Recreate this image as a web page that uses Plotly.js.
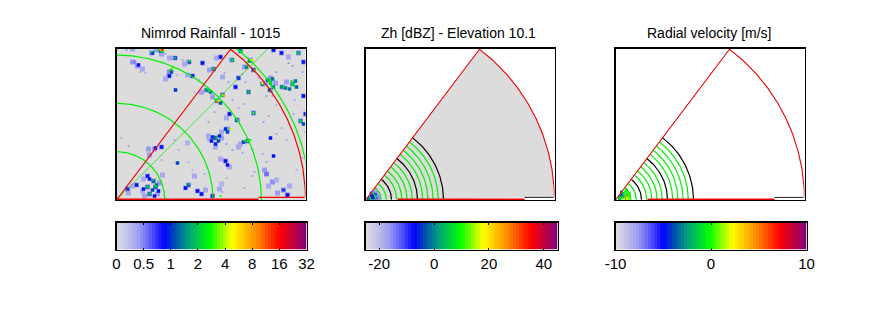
<!DOCTYPE html>
<html><head><meta charset="utf-8">
<script src="https://cdn.plot.ly/plotly-3.0.1.min.js"></script>
<style>html,body{margin:0;padding:0;background:#fff}</style></head>
<body><div id="chart" style="width:889px;height:333px"></div>
<script>
// Titles and colour-key tick labels
const panelTitles = ["Nimrod Rainfall - 1015", "Zh [dBZ] - Elevation 10.1", "Radial velocity [m/s]"];
const rainTickLevels = [0, 1, 2, 3, 4, 5, 6, 7];
const rainTickText = ["0", "0.5", "1", "2", "4", "8", "16", "32"];
const zhTicks = [-20, 0, 20, 40];
const velTicks = [-10, 0, 10];

// Range rings
const rainRings = [48.3, 96.6, 144.9, 193.2];
const scanGreenRings = [5.2, 10.4, 15.6, 20.8, 31.2, 36.4, 41.6, 46.8, 57.2, 62.4, 67.6, 72.8];
const scanBlackRings = [26, 52, 78];
const sectorRadius = 189, sectorAngle = 52.9, sectorEndAngle = 0.9;

// Rainfall [x, y, mm/h]: specks, halo, body and core cells
const rainSpeck = [
[10,150,.4],[24,128,.35],[29,127,.3],[49,146,.35],[66,140,.35],[60,125,.3],[82,120,.3],[83,107,.4],[86,106,.35],[78,108,.3],
[108,127,.35],[112,118,.35],[126,126,.4],[129,118,.4],[142,122,.35],[160,128,.4],[172,137,.45],[176,134,.4],[186,128,.35],[178,100,.35],
[150,104,.4],[156,104,.3],[160,95,.3],[128,96,.35],[122,92,.35],[116,100,.35],[98,88,.4],[92,78,.35],[110,56,.4],[116,50,.4],[121,53,.45],
[126,47,.35],[136,50,.35],[146,46,.4],[150,38,.35],[136,24,.35],[138,28,.3],[128,12,.3],[104,16,.35],[106,8,.35],[110,22,.3],[88,26,.3],
[76,30,.3],[72,38,.3],[58,60,.35],[12,54,.35],[5,62,.3],[62,50,.3],[45,40,.3],[180,30,.3],[186,42,.3],[160,66,.35],[170,60,.3],[147,78,.4],
[152,84,.35],[165,72,.3],[177,86,.35],[189,68,.4]];
const rainHalo = [
[16,151,.38],[16,138,.42],[21,134,.42],[26,131,.35],[52,124,.42],[49,121,.35],[53,128,.48],[40,150,.42],[45,146,.42],[35,147,.42],[58,142,.42],[53,142,.35],
[72,138,.42],[68,136,.35],[86,137,.42],[76,124,.42],[71,125,.35],[90,110,.42],[85,108,.38],[93,130,.42],
[124,149,.42],[104,143,.42],[100,142,.35],[115,140,.42],[134,140,.42],[128,133,.42],[137,130,.42],[97,131,.42],[146,116,.42],
[154,122,.42],[154,110,.42],[149,117,.42],[159,117,.4],[166,113,.42],[176,116,.42],[170,118,.4],[182,147,.42],[165,147,.42],[157,150,.42],[172,143,.35],[187,138,.42],
[106,123,.35],[122,122,.42],[119,113,.42],[132,108,.42],[101,99,.42],[96,103,.42],[106,105,.42],[113,86,.42],[110,82,.35],[137,87,.42],
[121,80,.42],[187,104,.42],[184,79,.42],[189,86,.42],
[45,53,.42],[38,51,.42],[32,51,.42],[33,45,.42],[31,24,.42],[27,21,.35],[37,19,.48],[31,13,.48],[39,13,.48],[33,6,.48],[41,6,.42],[26,9,.35],[43,17,.42],[28,4,.38],
[20,15,.42],[16,14,.35],[11,11,.42],[12,7,.35],[46,25,.35],[72,15,.42],[69,12,.35],[81,9,.42],[85,6,.42],[89,10,.35],[78,24,.35],
[71,57,.3],[93,61,.35],[99,62,.48],[92,64,.35],[99,53,.35],[105,62,.4],[111,71,.42],[105,68,.35],[131,59,.42],[124,56,.35],[122,53,.35],
[109,39,.42],[104,41,.35],[113,33,.35],[150,26,.48],[148,30,.42],[156,18,.46],[160,20,.32],[152,14,.32],[167,10,.48],[173,14,.35],[161,7,.42],[171,5,.48],
[103,11,.35],[105,16,.28],[96,4,.42]];
const rainBody = [
[22,135,.8],[18,138,.5],[44,149,1.2],[36,147,1],[59,142,1],[73,138,1.2],[86,137,.9],[55,128,1.2],[53,124,.9],[76,124,.9],[59,110,1],
[90,110,1.4],[94,108,1.3],[124,149,1.2],[104,143,.9],[116,140,1.3],[133,139,1.2],[130,133,1.3],[137,130,1],[97,131,1.3],[146,116,1.2],
[154,117,1.5],[151,120,1.3],[157,113,1.3],[153,110,1.2],[156,121,1.3],[165,113,1.4],[169,112,1.3],[176,116,1.5],[179,119,1.3],[173,111,1.3],[180,113,1.2],[182,147,1.3],[165,147,.9],[157,150,.9],
[187,138,.9],[122,122,.9],[119,113,.9],[132,108,1.3],[100,99,1.3],[104,97,1.2],[106,105,1.2],[113,86,.9],[137,87,1.3],[120,80,1],[187,104,.9],
[184,79,1.3],[187,76,1.1],[189,86,.9],[45,53,.9],[39,52,.8],[31,24,.9],[33,21,.8],[37,19,1.2],[40,15,1.3],[31,13,1.3],[27,11,.9],[36,10,1.1],
[39,13,1.3],[33,6,1.3],[38,4,.9],[42,9,.9],[20,15,.9],[11,11,.8],[72,15,1.1],[69,12,.9],[81,9,.9],[85,6,.9],[61,37,1.1],[99,62,1.2],[96,63,1],[102,59,1.1],[103,64,1],[95,59,.9],
[99,56,.8],[109,71,1],[111,68,1.1],[131,59,1.2],[127,58,1],[154,62,.9],[157,44,.8],[109,39,.9],[111,35,.8],[167,10,.6],[171,5,.9],[96,4,.9],[150,26,.55]];
const rainCore = [
[45,149,3],[42,150,2.2],[47,148,2.4],[44,150,8],[46,150,14],[35,148,2],[59,142,1.8],[73,139,2.6],[55,131,2.8],[56,132,3.5],[54,130,2.2],[91,111,2.4],[93,109,2],
[125,149,2.4],[116,140,2.6],[134,140,4],[136,140,5.5],[131,138,3],[130,134,2.2],[138,130,2],[138,129,7],[97,131,2.4],[146,116,3],[146,117,5],
[154,117,2.6],[153,120,2.4],[155,114,2.2],[167,113,2.2],[176,116,2.7],[175,119,2.5],[178,114,2.4],[182,147,2.4],[132,108,2.2],
[100,100,3],[100,98,11],[102,99,5.5],[99,101,2.8],[106,105,5],[105,104,2.6],[108,104,7],[137,87,3],[120,80,2],[184,79,2.4],
[37,20,2.2],[31,13,2.6],[39,14,2.4],[33,6,2.2],[72,16,2],[100,62,2],[114,71,3.2],[115,71,4.5],[131,59,3],[134,60,3],[128,59,2.4],[104,4,2.8],[167,10,1]];

// Low-range scan cells [x, y, value]
const zhCells = [[6.5,2,-8],[8,4,-8],[10,6,-7],[6,4,-6],[11.5,2,-10],[9,2,-6],[4,2,-5],[7.5,6.5,-10],[10,3.5,-13],[12.5,4,-15],[13.5,1.5,-16],[8,8.5,-15],[11,8,-16],[4.5,1,-3],[3,1,-1],[5.5,7,-12],[13,7,-18],[9.5,10,-18]];
const velCells = [[8.5,2.5,2.5],[11,1.5,2.2],[10,4,4.5],[6.5,5,-5],[5,3.5,-4.5],[8,6.5,-2.5],[6,2,0],[13,4,0.2],[10,8,0],[4,1.5,-2.2],[12,6,-1],[13.5,1.5,1],[7,3.5,-2],[6,8,-3],[14,6.5,.5],[11,10,-.5]];

// Colour key band count and colour ramp
const keyBands = 64;
const ramp = [[0,"#dcdcdc"],[.04,"#ccccea"],[.12,"#9c9cf0"],[.2,"#4444ff"],[.25,"#0000ff"],[.31,"#0050b0"],[.375,"#00a080"],[.49,"#00ff00"],[.61,"#ffff00"],[.73,"#ff9000"],[.86,"#ff0000"],[1,"#800080"]];

const W = 889, H = 333;
const dx = (a, b) => [a / W, b / W];
const dy = (t, b) => [1 - b / H, 1 - t / H];
const panelLeft = [116.5, 365.5, 615.5];
const barEdges = [[116.5, 306.5], [365.5, 557.5], [615.5, 806.5]];
const RX = 189, RY = 151.5;

function arc(r, a0, a1) {
  const x = [], y = [];
  const n = Math.max(12, Math.round(r));
  for (let i = 0; i <= n; i++) {
    const t = (a0 + (a1 - a0) * i / n) * Math.PI / 180;
    x.push(r * Math.cos(t)); y.push(r * Math.sin(t));
  }
  return { x, y };
}
const line = (pts, color, width, ax) => ({
  type: "scatter", mode: "lines", x: pts.x, y: pts.y, xaxis: "x" + ax, yaxis: "y" + ax,
  line: { color, width }, hoverinfo: "skip", showlegend: false
});
const rainLevel = v => v < .5 ? v * 2 : Math.log2(v) + 2;
function cells(list, size, ax, toColor, cmin, cmax) {
  return {
    type: "scatter", mode: "markers", xaxis: "x" + ax, yaxis: "y" + ax, showlegend: false, hoverinfo: "skip",
    x: list.map(c => c[0]), y: list.map(c => c[1]),
    marker: { symbol: "square", size, line: { width: 0 }, color: list.map(c => toColor(c[2])), cmin, cmax, colorscale: ramp }
  };
}
function sectorOutline() {
  const a = arc(sectorRadius, sectorAngle, sectorEndAngle);
  return { x: [0].concat(a.x), y: [0].concat(a.y) };
}

const traces = [];
const id = v => v;

// Panel 1
traces.push(cells(rainSpeck, 2, "", rainLevel, 0, 7));
traces.push(cells(rainHalo, 5, "", rainLevel, 0, 7));
traces.push(cells(rainBody, 3.5, "", rainLevel, 0, 7));
traces.push(cells(rainCore, 2, "", rainLevel, 0, 7));
rainRings.forEach(r => traces.push(line(arc(r, 0, 90), "#00f000", 1.2, "")));
traces.push(line({ x: [0, RY], y: [0, RY] }, "#00e000", .7, ""));
traces.push(line(sectorOutline(), "#f00000", 1.2, ""));
traces.push(line({ x: [0, 142], y: [.8, .8] }, "#f00000", 1.6, ""));
traces.push(line({ x: [142, 188], y: [2.6, 2.6] }, "#f00000", 1.4, ""));

// Panels 2 and 3
[["2", zhCells, -25, 45], ["3", velCells, -10, 10]].forEach(([ax, list, lo, hi], k) => {
  if (k === 0) {
    const o = sectorOutline();
    const t = line({ x: o.x.concat([0]), y: o.y.concat([0]) }, "rgba(0,0,0,0)", 0, ax);
    t.fill = "toself"; t.fillcolor = "#dcdcdc";
    traces.push(t);
  }
  traces.push(cells(list, 3, ax, id, lo, hi));
  scanGreenRings.forEach(r => traces.push(line(arc(r, sectorEndAngle, sectorAngle), "#00f000", 1.2, ax)));
  scanBlackRings.forEach(r => traces.push(line(arc(r, sectorEndAngle, sectorAngle), "#000000", 1.2, ax)));
  traces.push(line(sectorOutline(), "#f00000", 1.1, ax));
  traces.push(line({ x: [32, 159], y: [.6, .6] }, "#f00000", 1.6, ax));
  traces.push(line({ x: [159, 188], y: [2.6, 2.6] }, "#222222", 1, ax));
});

// Colour keys
[[0, 7, "4"], [-25, 45, "5"], [-10, 10, "6"]].forEach(([lo, hi, ax]) => {
  const xs = [], zs = [];
  for (let i = 0; i < keyBands; i++) { xs.push(lo + (hi - lo) * (i + .5) / keyBands); zs.push(xs[i]); }
  traces.push({
    type: "heatmap", x: xs, y: [0], z: [zs], xaxis: "x" + ax, yaxis: "y" + ax,
    colorscale: ramp, zmin: lo, zmax: hi, showscale: false, hoverinfo: "skip", zsmooth: false
  });
});

const frame = { showline: true, mirror: true, linecolor: "#000", linewidth: 1.2, zeroline: false, showgrid: false, fixedrange: true };
const hidden = Object.assign({}, frame, { showticklabels: false, ticks: "" });
const layout = {
  width: W, height: H, autosize: false, margin: { l: 0, r: 0, t: 0, b: 0 },
  paper_bgcolor: "#fff", plot_bgcolor: "#fff", showlegend: false,
  font: { family: "Liberation Sans, Arial, sans-serif", size: 14, color: "#000" },
  shapes: [{ type: "rect", xref: "x domain", yref: "y domain", x0: 0, x1: 1, y0: 0, y1: 1, layer: "below", fillcolor: "#dcdcdc", line: { width: 0 } }],
  annotations: panelTitles.map((t, i) => ({
    text: t, xref: "paper", yref: "paper", x: [210, 459, 708.5][i] / W, y: 1 - 33 / H,
    xanchor: "center", yanchor: "middle", showarrow: false, font: { size: 14 }
  }))
};
["", "2", "3"].forEach((s, i) => {
  layout["xaxis" + s] = Object.assign({}, hidden, { domain: dx(panelLeft[i], panelLeft[i] + RX), range: [0, RX], anchor: "y" + s });
  layout["yaxis" + s] = Object.assign({}, hidden, { domain: dy(48.5, 200), range: [0, RY], anchor: "x" + s });
});
const keyAxes = [
  { range: [0, 7], tickvals: rainTickLevels, ticktext: rainTickText },
  { range: [-25, 45], tickvals: zhTicks, ticktext: zhTicks.map(String) },
  { range: [-10, 10], tickvals: velTicks, ticktext: velTicks.map(String) }
];
keyAxes.forEach((k, i) => {
  const s = String(4 + i);
  layout["xaxis" + s] = Object.assign({}, frame, k, {
    domain: dx(barEdges[i][0], barEdges[i][1]), anchor: "y" + s, tickmode: "array",
    ticks: "inside", ticklen: 2, tickcolor: "#000", tickwidth: 1, mirror: "allticks", tickangle: 0,
    tickfont: { size: 15 }, side: "bottom"
  });
  layout["yaxis" + s] = Object.assign({}, hidden, { domain: dy(222.5, 249.5), range: [-.5, .5], anchor: "x" + s });
});
Plotly.newPlot("chart", traces, layout, { staticPlot: true, displayModeBar: false });
</script></body></html>
